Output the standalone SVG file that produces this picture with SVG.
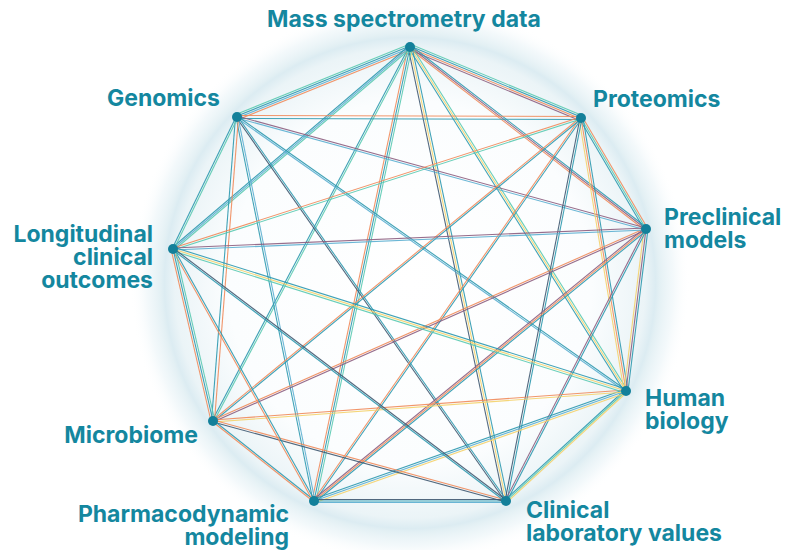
<svg xmlns="http://www.w3.org/2000/svg" width="796" height="550" viewBox="0 0 796 550">
<defs>
<radialGradient id="glow" cx="410" cy="283" r="280" gradientUnits="userSpaceOnUse">
<stop offset="0" stop-color="#ffffff"/>
<stop offset="0.65" stop-color="#fbfdfe"/>
<stop offset="0.84" stop-color="#ebf4f7"/>
<stop offset="0.877" stop-color="#dcecf2"/>
<stop offset="0.89" stop-color="#e3f0f4"/>
<stop offset="0.94" stop-color="#eef6f9" stop-opacity="0.7"/>
<stop offset="1" stop-color="#ffffff" stop-opacity="0"/>
</radialGradient>
<style>
.lbl{font-family:Inter,"Liberation Sans",sans-serif;font-weight:700;font-size:23px;fill:#14879f}
line{stroke-width:1.1;fill:none;stroke-opacity:0.9}
.t{stroke:#2b98ae}.m{stroke:#58c9b0}.o{stroke:#f0895a}.y{stroke:#f4d26a}.p{stroke:#8c5d7e}.d{stroke:#3e5870}.b{stroke:#5aaed0}
.node circle{fill:#13809a}
</style>
</defs>
<rect width="796" height="550" fill="#ffffff"/>
<circle cx="410" cy="283" r="280" fill="url(#glow)"/>
<g id="connectors">
<line class="m" x1="410" y1="44" x2="581" y2="115"/>
<line class="t" x1="410" y1="46" x2="581" y2="117"/>
<line class="o" x1="410" y1="48" x2="581" y2="119"/>
<line class="p" x1="410" y1="50" x2="581" y2="121"/>
<line class="m" x1="410" y1="44" x2="237" y2="114"/>
<line class="t" x1="410" y1="46" x2="237" y2="116"/>
<line class="b" x1="410" y1="48" x2="237" y2="118"/>
<line class="o" x1="410" y1="50" x2="237" y2="120"/>
<line class="t" x1="410" y1="45" x2="646" y2="227"/>
<line class="p" x1="410" y1="47" x2="646" y2="229"/>
<line class="o" x1="410" y1="49" x2="646" y2="231"/>
<line class="t" x1="408" y1="47" x2="624" y2="391"/>
<line class="y" x1="410" y1="47" x2="626" y2="391"/>
<line class="m" x1="412" y1="47" x2="628" y2="391"/>
<line class="d" x1="408" y1="47" x2="504" y2="501"/>
<line class="y" x1="410" y1="47" x2="506" y2="501"/>
<line class="t" x1="412" y1="47" x2="508" y2="501"/>
<line class="o" x1="408" y1="47" x2="312" y2="501"/>
<line class="t" x1="410" y1="47" x2="314" y2="501"/>
<line class="m" x1="412" y1="47" x2="316" y2="501"/>
<line class="t" x1="409" y1="47" x2="212" y2="421"/>
<line class="m" x1="411" y1="47" x2="214" y2="421"/>
<line class="t" x1="410" y1="45" x2="173" y2="247"/>
<line class="b" x1="410" y1="47" x2="173" y2="249"/>
<line class="m" x1="410" y1="49" x2="173" y2="251"/>
<line class="o" x1="237" y1="115.5" x2="581" y2="116.5"/>
<line class="t" x1="237" y1="118.5" x2="581" y2="119.5"/>
<line class="p" x1="237" y1="116" x2="646" y2="228"/>
<line class="b" x1="237" y1="118" x2="646" y2="230"/>
<line class="t" x1="237" y1="116" x2="626" y2="390"/>
<line class="b" x1="237" y1="118" x2="626" y2="392"/>
<line class="d" x1="236" y1="117" x2="505" y2="501"/>
<line class="t" x1="238" y1="117" x2="507" y2="501"/>
<line class="t" x1="236" y1="117" x2="313" y2="501"/>
<line class="b" x1="238" y1="117" x2="315" y2="501"/>
<line class="t" x1="235.5" y1="117" x2="211.5" y2="421"/>
<line class="o" x1="238.5" y1="117" x2="214.5" y2="421"/>
<line class="t" x1="236" y1="117" x2="172" y2="249"/>
<line class="m" x1="238" y1="117" x2="174" y2="249"/>
<line class="t" x1="579" y1="118" x2="644" y2="229"/>
<line class="m" x1="581" y1="118" x2="646" y2="229"/>
<line class="o" x1="583" y1="118" x2="648" y2="229"/>
<line class="y" x1="579" y1="118" x2="624" y2="391"/>
<line class="o" x1="581" y1="118" x2="626" y2="391"/>
<line class="t" x1="583" y1="118" x2="628" y2="391"/>
<line class="d" x1="580" y1="118" x2="505" y2="501"/>
<line class="t" x1="582" y1="118" x2="507" y2="501"/>
<line class="o" x1="580" y1="118" x2="313" y2="501"/>
<line class="t" x1="582" y1="118" x2="315" y2="501"/>
<line class="o" x1="581" y1="117" x2="213" y2="420"/>
<line class="t" x1="581" y1="119" x2="213" y2="422"/>
<line class="o" x1="581" y1="117" x2="173" y2="248"/>
<line class="m" x1="581" y1="119" x2="173" y2="250"/>
<line class="y" x1="644" y1="229" x2="624" y2="391"/>
<line class="p" x1="646" y1="229" x2="626" y2="391"/>
<line class="t" x1="648" y1="229" x2="628" y2="391"/>
<line class="p" x1="645" y1="229" x2="505" y2="501"/>
<line class="t" x1="647" y1="229" x2="507" y2="501"/>
<line class="p" x1="646" y1="227" x2="314" y2="499"/>
<line class="o" x1="646" y1="229" x2="314" y2="501"/>
<line class="t" x1="646" y1="231" x2="314" y2="503"/>
<line class="o" x1="646" y1="228" x2="213" y2="420"/>
<line class="p" x1="646" y1="230" x2="213" y2="422"/>
<line class="p" x1="646" y1="228" x2="173" y2="248"/>
<line class="b" x1="646" y1="230" x2="173" y2="250"/>
<line class="t" x1="626" y1="389" x2="506" y2="499"/>
<line class="m" x1="626" y1="391" x2="506" y2="501"/>
<line class="y" x1="626" y1="393" x2="506" y2="503"/>
<line class="t" x1="626" y1="389" x2="314" y2="499"/>
<line class="b" x1="626" y1="391" x2="314" y2="501"/>
<line class="y" x1="626" y1="393" x2="314" y2="503"/>
<line class="o" x1="626" y1="390" x2="213" y2="420"/>
<line class="y" x1="626" y1="392" x2="213" y2="422"/>
<line class="t" x1="626" y1="389" x2="173" y2="247"/>
<line class="y" x1="626" y1="391" x2="173" y2="249"/>
<line class="m" x1="626" y1="393" x2="173" y2="251"/>
<line class="d" x1="506" y1="499.5" x2="314" y2="499.5"/>
<line class="t" x1="506" y1="501" x2="314" y2="501"/>
<line class="b" x1="506" y1="502.5" x2="314" y2="502.5"/>
<line class="o" x1="506" y1="500" x2="213" y2="420"/>
<line class="d" x1="506" y1="502" x2="213" y2="422"/>
<line class="d" x1="506" y1="500" x2="173" y2="248"/>
<line class="t" x1="506" y1="502" x2="173" y2="250"/>
<line class="t" x1="314" y1="500" x2="213" y2="420"/>
<line class="o" x1="314" y1="502" x2="213" y2="422"/>
<line class="o" x1="313" y1="501" x2="172" y2="249"/>
<line class="t" x1="315" y1="501" x2="174" y2="249"/>
<line class="o" x1="211" y1="421" x2="171" y2="249"/>
<line class="t" x1="213" y1="421" x2="173" y2="249"/>
<line class="m" x1="215" y1="421" x2="175" y2="249"/>
</g>
<g id="mass-spectrometry" class="node"><circle cx="410" cy="47" r="5"/><text class="lbl" x="404" y="27" text-anchor="middle">Mass spectrometry data</text></g>
<g id="proteomics" class="node"><circle cx="581" cy="118" r="5"/><text class="lbl" x="593" y="107">Proteomics</text></g>
<g id="preclinical" class="node"><circle cx="646" cy="229" r="5"/><text class="lbl" x="664" y="225">Preclinical</text><text class="lbl" x="664" y="248">models</text></g>
<g id="human-biology" class="node"><circle cx="626" cy="391" r="5"/><text class="lbl" x="645" y="406">Human</text><text class="lbl" x="645" y="429">biology</text></g>
<g id="clinical-lab" class="node"><circle cx="506" cy="501" r="5"/><text class="lbl" x="526" y="518">Clinical</text><text class="lbl" x="526" y="541">laboratory values</text></g>
<g id="pharmacodynamic" class="node"><circle cx="314" cy="501" r="5"/><text class="lbl" x="289" y="522" text-anchor="end">Pharmacodynamic</text><text class="lbl" x="289" y="545" text-anchor="end">modeling</text></g>
<g id="microbiome" class="node"><circle cx="213" cy="421" r="5"/><text class="lbl" x="198" y="443" text-anchor="end">Microbiome</text></g>
<g id="longitudinal" class="node"><circle cx="173" cy="249" r="5"/><text class="lbl" x="153" y="242" text-anchor="end">Longitudinal</text><text class="lbl" x="153" y="265" text-anchor="end">clinical</text><text class="lbl" x="153" y="288" text-anchor="end">outcomes</text></g>
<g id="genomics" class="node"><circle cx="237" cy="117" r="5"/><text class="lbl" x="220" y="106" text-anchor="end">Genomics</text></g>
</svg>
